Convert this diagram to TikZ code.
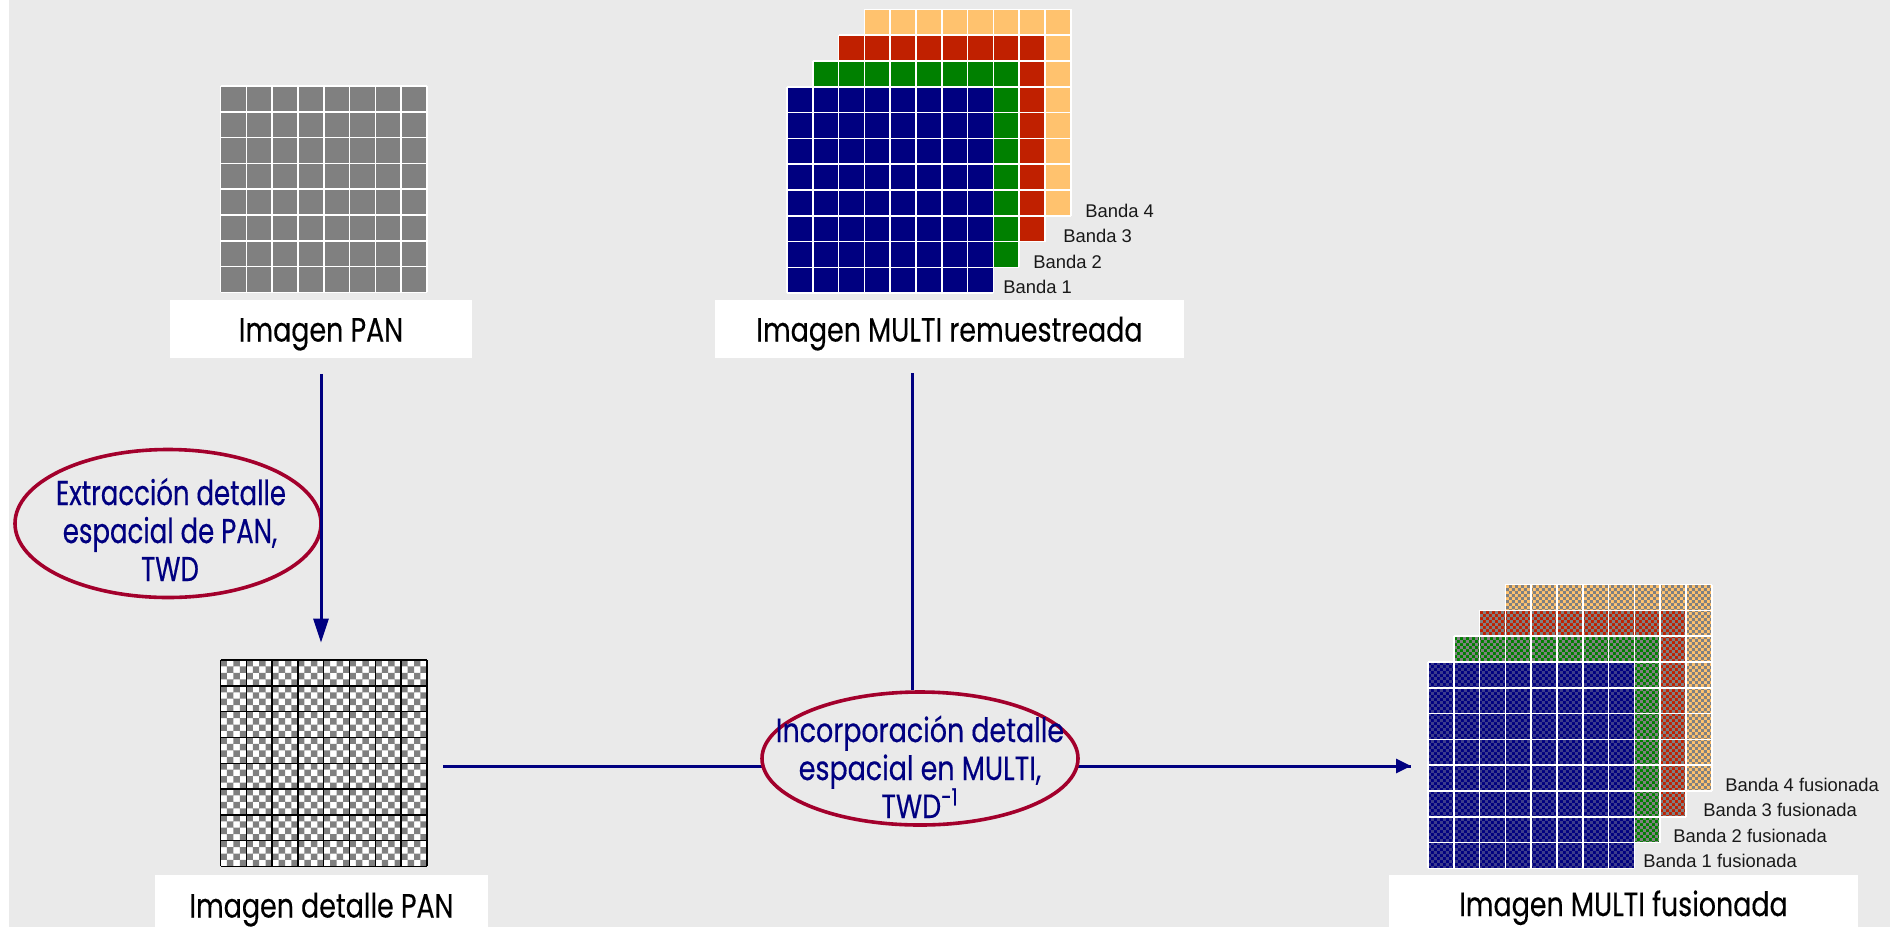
\documentclass[tikz,border=0pt]{standalone}
\usepackage{fontspec}
\usetikzlibrary{arrows.meta,shapes.geometric,patterns.meta}
\newfontfamily\fut[FakeStretch=0.80,FakeBold=0.25]{Poppins}
\newfontfamily\futc[FakeStretch=0.755,FakeBold=0.35]{Poppins}
\newfontfamily\arl{Liberation Sans}
\definecolor{bgc}{HTML}{EAEAEA}
\definecolor{navy}{HTML}{000080}
\definecolor{ellred}{HTML}{A3002C}
\definecolor{pangray}{HTML}{808080}
\definecolor{bblue}{HTML}{000080}
\definecolor{bgreen}{HTML}{008000}
\definecolor{bred}{HTML}{C02000}
\definecolor{borange}{HTML}{FFC26E}
\definecolor{bluepat}{HTML}{3C3C8C}
\tikzdeclarepattern{
  name=finechk,
  type=uncolored,
  bounding box={(0pt,0pt) and (3.226pt,3.226pt)},
  tile size={(3.226pt,3.226pt)},
  code={\pgfpathrectangle{\pgfpointorigin}{\pgfpoint{1.613pt}{1.613pt}}%
        \pgfpathrectangle{\pgfpoint{1.613pt}{1.613pt}}{\pgfpoint{1.613pt}{1.613pt}}%
        \pgfusepath{fill}}
}
\newcommand\mygrid[4]{%
  \draw[#3, line width=#4] \foreach \k in {0,...,8}{ ({#1+\k*25.8},#2) -- ({#1+\k*25.8},{#2+206.4}) (#1,{#2+\k*25.8}) -- ({#1+206.4},{#2+\k*25.8}) };
}
\newcommand\plainband[3]{%
  \fill[#3] (#1,#2) rectangle ++(206.4,206.4);
  \mygrid{#1}{#2}{white}{0.8pt}%
}
\newcommand\fusedband[4]{%
  \fill[#3] (#1,#2) rectangle ++(206.4,206.4);
  \fill[pattern=finechk, pattern color=#4] (#1,#2) rectangle ++(206.4,206.4);
  \mygrid{#1}{#2}{white}{0.8pt}%
}
\begin{document}
\begin{tikzpicture}[x=0.5pt,y=-0.5pt,
  titlebox/.style={fill=white, inner sep=0pt, text=black, font=\fut\fontsize{16.8pt}{19pt}\selectfont},
  bandlbl/.style={anchor=base west, inner sep=0pt, text=black!90, font=\arl\fontsize{9.2pt}{11pt}\selectfont},
  proc/.style={ellipse, draw=ellred, line width=1.8pt, fill=bgc, inner sep=0pt},
  proctxt/.style={anchor=base, inner sep=0pt, text=navy, font=\fut\fontsize{16.8pt}{19pt}\selectfont},
  proctxtc/.style={proctxt, font=\futc\fontsize{17.2pt}{19pt}\selectfont},
  conn/.style={draw=navy, line width=1.5pt},
  gridbox/.style={draw=none, inner sep=0pt, minimum width=103.2pt, minimum height=103.2pt}
]
\useasboundingbox (0,0) rectangle (1894,927);
\fill[white] (0,0) rectangle (1894,927);
\fill[bgc] (9,0) rectangle (1890,927);

% ---- PAN image
\fill[pangray] (220.5,86) rectangle ++(206.4,206.4);
\mygrid{220.5}{86}{white}{0.8pt}
\node[gridbox] (pangrid) at (323.7,189.2) {};
\node[titlebox, minimum width=151pt, minimum height=29pt, text height=15pt, text depth=2pt] (panbox) at (321,328.5) {Imagen PAN};

% ---- MULTI resampled
\plainband{864.4}{9.4}{borange}
\plainband{838.6}{35.2}{bred}
\plainband{812.8}{61}{bgreen}
\plainband{787}{86.8}{bblue}
\node[gridbox] (multigrid) at (890.2,190) {};
\node[bandlbl] (lb4) at (1085,217) {Banda 4};
\node[bandlbl] (lb3) at (1063,242) {Banda 3};
\node[bandlbl] (lb2) at (1033,268) {Banda 2};
\node[bandlbl] (lb1) at (1003,293) {Banda 1};
\node[titlebox, minimum width=234.5pt, minimum height=29pt, text height=15pt, text depth=2pt] (multibox) at (949.5,328.5) {Imagen MULTI remuestreada};

% ---- PAN detail
\fill[white] (220.5,660) rectangle ++(206.4,206.4);
\fill[pangray] \foreach \i in {0,...,31}{ \foreach \j in {0,2,...,30}{ ({220.5+(\j+mod(\i,2))*6.45},{660+\i*6.45}) rectangle ++(6.45,6.45) } };
\mygrid{220.5}{660}{black}{0.7pt}
\node[gridbox] (detgrid) at (323.7,763.2) {};
\node[titlebox, minimum width=166.5pt, minimum height=30pt, text height=14.5pt, text depth=2pt] (detbox) at (321.5,905) {Imagen detalle PAN};

% ---- fused MULTI
\fusedband{1505.4}{584.6}{borange}{pangray}
\fusedband{1479.6}{610.4}{bred}{pangray}
\fusedband{1453.8}{636.2}{bgreen}{pangray}
\fusedband{1428}{662}{bblue}{bluepat}
\node[gridbox] (fusgrid) at (1531.2,765.2) {};
\node[bandlbl] (fb4) at (1725,791) {Banda 4 fusionada};
\node[bandlbl] (fb3) at (1703,816) {Banda 3 fusionada};
\node[bandlbl] (fb2) at (1673,842) {Banda 2 fusionada};
\node[bandlbl] (fb1) at (1643,867) {Banda 1 fusionada};
\node[titlebox, minimum width=234.5pt, minimum height=30pt, text height=13pt, text depth=2pt] (fusbox) at (1623.5,905) {Imagen MULTI fusionada};

% ---- connectors
\coordinate (hs) at (443,766);
\coordinate (he) at (1411,766);
\coordinate (vs) at (912,373);
\draw[conn] (hs) -- (he);
\node[proc, minimum width=158pt, minimum height=66.5pt] (e2) at (920,758.5) {};
\draw[conn] (vs) -- (vs |- e2.north);
\draw[conn, -{Triangle[length=7.5pt,width=7pt]}] (e2.east |- he) -- (he);
\node[proctxt, font=\futc\fontsize{16.8pt}{19pt}\selectfont, xscale=1.06] (e2a) at (920,742) {Incorporación detalle};
\node[proctxt, font=\futc\fontsize{16.8pt}{19pt}\selectfont, xscale=1.06] (e2b) at (920,780) {espacial en MULTI,};
\node[proctxt, font=\futc\fontsize{16.8pt}{19pt}\selectfont, xscale=1.06] (e2c) at (920,818) {TWD\textsuperscript{-1}};

\node[proc, minimum width=153pt, minimum height=74pt] (e1) at (168,523.5) {};
\node[proctxtc] (e1a) at (171,505) {Extracción detalle};
\node[proctxtc] (e1b) at (170,543) {espacial de PAN,};
\node[proctxtc] (e1c) at (170,581) {TWD};
\draw[conn, shorten <=8pt, shorten >=8.5pt, -{Triangle[length=12pt,width=7.5pt]}] (panbox.south) -- (panbox.south |- detgrid.north);
\end{tikzpicture}
\end{document}
